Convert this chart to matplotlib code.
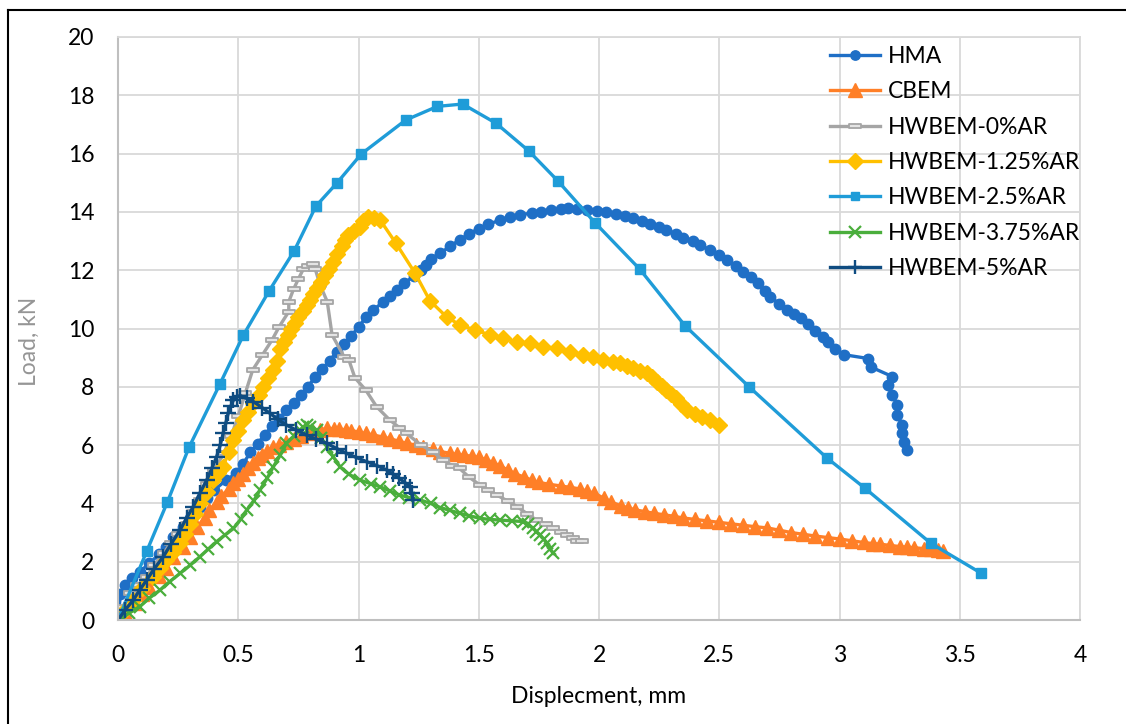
import matplotlib
matplotlib.use("Agg")
import matplotlib.pyplot as plt
from matplotlib.path import Path
from matplotlib.lines import Line2D

plt.rcParams['font.family'] = ['Lato', 'DejaVu Sans']

# ---- data ----
hma_x = [0.00, 0.01, 0.03, 0.06, 0.09, 0.13, 0.17, 0.20, 0.23, 0.27, 0.30, 0.34, 0.37, 0.40, 0.45,
         0.49, 0.52, 0.55, 0.58, 0.61, 0.64, 0.67, 0.70, 0.73, 0.76, 0.79, 0.82, 0.85, 0.88, 0.91,
         0.94, 0.97, 1.00, 1.03, 1.06, 1.10, 1.13, 1.16, 1.19, 1.23, 1.26, 1.28, 1.30, 1.34, 1.38,
         1.42, 1.46, 1.50, 1.54, 1.59, 1.63, 1.67, 1.72, 1.76, 1.80, 1.84, 1.87, 1.91, 1.95, 1.99,
         2.03, 2.07, 2.11, 2.14, 2.18, 2.21, 2.25, 2.28, 2.32, 2.35, 2.39, 2.42, 2.46, 2.50, 2.53,
         2.57, 2.60, 2.63, 2.66, 2.69, 2.71, 2.75, 2.78, 2.81, 2.84, 2.87, 2.90, 2.93, 2.95, 2.98,
         3.02, 3.12, 3.13, 3.22, 3.20, 3.22, 3.24, 3.24, 3.26, 3.26, 3.27, 3.28]
hma_y = [0.00, 0.90, 1.20, 1.45, 1.65, 1.94, 2.25, 2.50, 2.85, 3.20, 3.50, 3.89, 4.20, 4.46, 4.80,
         5.03, 5.35, 5.75, 6.05, 6.35, 6.65, 6.90, 7.20, 7.45, 7.72, 8.00, 8.35, 8.62, 8.90, 9.20,
         9.48, 9.75, 10.05, 10.38, 10.62, 10.90, 11.10, 11.32, 11.55, 11.80, 12.00, 12.18, 12.40, 12.58, 12.82,
         13.04, 13.25, 13.43, 13.58, 13.72, 13.82, 13.90, 13.96, 14.00, 14.05, 14.10, 14.12, 14.10, 14.08, 14.02,
         13.98, 13.92, 13.85, 13.78, 13.68, 13.60, 13.48, 13.38, 13.25, 13.12, 13.00, 12.86, 12.70, 12.52, 12.35,
         12.15, 11.95, 11.78, 11.55, 11.30, 11.09, 10.85, 10.65, 10.50, 10.35, 10.15, 9.92, 9.70, 9.55, 9.30,
         9.10, 8.97, 8.68, 8.35, 8.05, 7.72, 7.38, 7.03, 6.69, 6.40, 6.12, 5.83]

cbem_x = [0.00, 0.03, 0.07, 0.10, 0.13, 0.17, 0.20, 0.23, 0.27, 0.30, 0.33, 0.36, 0.38, 0.41, 0.43,
          0.46, 0.48, 0.50, 0.52, 0.54, 0.56, 0.58, 0.60, 0.62, 0.645, 0.67, 0.70, 0.73, 0.76, 0.79,
          0.81, 0.84, 0.87, 0.90, 0.92, 0.95, 0.97, 1.00, 1.03, 1.06, 1.10, 1.13, 1.17, 1.20, 1.24,
          1.27, 1.31, 1.34, 1.38, 1.41, 1.44, 1.47, 1.50, 1.53, 1.56, 1.59, 1.62, 1.65, 1.69, 1.72,
          1.75, 1.79, 1.84, 1.88, 1.92, 1.95, 1.98, 2.02, 2.05, 2.09, 2.12, 2.15, 2.19, 2.23, 2.27,
          2.31, 2.35, 2.40, 2.45, 2.50, 2.55, 2.60, 2.65, 2.70, 2.75, 2.80, 2.85, 2.90, 2.95, 3.00,
          3.05, 3.10, 3.14, 3.17, 3.21, 3.25, 3.28, 3.31, 3.35, 3.38, 3.41, 3.43]
cbem_y = [0.00, 0.25, 0.60, 0.88, 1.14, 1.50, 1.80, 2.15, 2.50, 2.85, 3.20, 3.50, 3.77, 4.05, 4.25,
          4.50, 4.70, 4.85, 5.00, 5.20, 5.38, 5.55, 5.65, 5.80, 5.95, 6.02, 6.10, 6.20, 6.30, 6.40,
          6.45, 6.52, 6.58, 6.56, 6.55, 6.52, 6.50, 6.45, 6.40, 6.35, 6.28, 6.22, 6.13, 6.06, 6.00,
          5.92, 5.85, 5.78, 5.72, 5.68, 5.65, 5.62, 5.58, 5.50, 5.40, 5.28, 5.15, 5.02, 4.90, 4.80,
          4.72, 4.66, 4.60, 4.55, 4.50, 4.42, 4.35, 4.18, 4.05, 3.92, 3.85, 3.78, 3.72, 3.66, 3.61,
          3.56, 3.50, 3.45, 3.40, 3.35, 3.30, 3.25, 3.20, 3.16, 3.08, 3.00, 2.94, 2.88, 2.83, 2.78,
          2.72, 2.66, 2.62, 2.60, 2.56, 2.52, 2.50, 2.48, 2.45, 2.42, 2.39, 2.36]

ar0_x = [0.00, 0.02, 0.05, 0.08, 0.12, 0.15, 0.19, 0.22, 0.25, 0.285, 0.31, 0.34, 0.37, 0.40, 0.44,
         0.47, 0.50, 0.53, 0.56, 0.60, 0.64, 0.67, 0.71, 0.71, 0.73, 0.75, 0.77, 0.79, 0.81, 0.82,
         0.84, 0.87, 0.89, 0.94, 0.96, 0.985, 1.03, 1.075, 1.13, 1.17, 1.20, 1.26, 1.31, 1.35, 1.39,
         1.42, 1.46, 1.505, 1.54, 1.575, 1.62, 1.66, 1.70, 1.74, 1.78, 1.81, 1.84, 1.865, 1.89, 1.91, 1.93]
ar0_y = [0.00, 0.46, 0.92, 1.20, 1.49, 1.90, 2.29, 2.65, 2.95, 3.31, 3.70, 4.12, 4.65, 5.15, 5.72,
         6.30, 7.00, 7.80, 8.58, 9.09, 9.60, 10.06, 10.58, 10.92, 11.35, 11.70, 12.03, 12.15, 12.21, 12.04,
         11.50, 10.92, 9.78, 9.03, 8.92, 8.31, 7.89, 7.32, 6.86, 6.60, 6.40, 6.00, 5.77, 5.49, 5.30,
         5.20, 4.90, 4.63, 4.45, 4.29, 4.08, 3.89, 3.65, 3.43, 3.28, 3.14, 3.02, 2.92, 2.80, 2.72, 2.70]

ar125_x = [0.00, 0.03, 0.064, 0.10, 0.147, 0.175, 0.20, 0.23, 0.258, 0.28, 0.30, 0.32, 0.341, 0.37, 0.396,
           0.417, 0.437, 0.46, 0.48, 0.50, 0.52, 0.54, 0.563, 0.585, 0.604, 0.625, 0.646, 0.66, 0.674, 0.69,
           0.708, 0.72, 0.736, 0.75, 0.77, 0.785, 0.798, 0.81, 0.826, 0.845, 0.861, 0.878, 0.895, 0.91, 0.93,
           0.945, 0.958, 0.98, 1.006, 1.02, 1.04, 1.065, 1.09, 1.156, 1.235, 1.297, 1.366, 1.422, 1.484, 1.547,
           1.602, 1.658, 1.713, 1.768, 1.824, 1.88, 1.935, 1.976, 2.018, 2.06, 2.087, 2.115, 2.14, 2.17, 2.20,
           2.22, 2.24, 2.26, 2.28, 2.30, 2.32, 2.34, 2.365, 2.40, 2.43, 2.46, 2.50]
ar125_y = [0.00, 0.35, 0.69, 1.10, 1.49, 1.78, 2.06, 2.35, 2.63, 2.95, 3.31, 3.65, 4.00, 4.40, 4.80,
           5.05, 5.26, 5.75, 6.17, 6.50, 6.86, 7.15, 7.43, 7.72, 8.00, 8.30, 8.58, 8.90, 9.30, 9.55,
           9.78, 10.00, 10.18, 10.40, 10.60, 10.80, 10.98, 11.18, 11.38, 11.60, 11.83, 12.05, 12.29, 12.55, 12.84,
           13.05, 13.20, 13.35, 13.49, 13.68, 13.84, 13.78, 13.72, 12.92, 11.90, 10.95, 10.40, 10.12, 9.95, 9.78,
           9.66, 9.55, 9.49, 9.38, 9.32, 9.20, 9.09, 9.03, 8.92, 8.85, 8.80, 8.72, 8.63, 8.55, 8.46,
           8.35, 8.18, 8.03, 7.89, 7.75, 7.60, 7.40, 7.20, 7.08, 6.97, 6.85, 6.69]

ar25_x = [0.00, 0.12, 0.205, 0.295, 0.424, 0.521, 0.629, 0.733, 0.823, 0.909, 1.012, 1.196, 1.328,
          1.433, 1.572, 1.708, 1.828, 1.983, 2.17, 2.357, 2.624, 2.946, 3.106, 3.38, 3.59]
ar25_y = [0.00, 2.37, 4.04, 5.92, 8.10, 9.77, 11.30, 12.67, 14.20, 14.98, 15.99, 17.15, 17.62,
          17.70, 17.04, 16.09, 15.07, 13.63, 12.03, 10.10, 8.00, 5.57, 4.52, 2.63, 1.60]

ar375_x = [0.00, 0.045, 0.09, 0.13, 0.175, 0.215, 0.258, 0.30, 0.34, 0.375, 0.41, 0.445, 0.48, 0.51, 0.535,
           0.565, 0.59, 0.62, 0.646, 0.675, 0.70, 0.73, 0.757, 0.77, 0.784, 0.80, 0.826, 0.845, 0.868, 0.895,
           0.923, 0.96, 1.006, 1.05, 1.09, 1.13, 1.17, 1.21, 1.256, 1.30, 1.339, 1.38, 1.422, 1.46, 1.505,
           1.545, 1.588, 1.64, 1.685, 1.705, 1.727, 1.74, 1.755, 1.77, 1.782, 1.795, 1.81]
ar375_y = [0.00, 0.23, 0.46, 0.75, 1.03, 1.32, 1.60, 1.88, 2.17, 2.43, 2.69, 2.92, 3.14, 3.45, 3.77,
           4.10, 4.46, 4.86, 5.26, 5.66, 6.06, 6.30, 6.52, 6.62, 6.69, 6.62, 6.52, 6.25, 5.95, 5.60,
           5.26, 5.00, 4.80, 4.68, 4.57, 4.43, 4.29, 4.20, 4.12, 4.00, 3.86, 3.76, 3.66, 3.58, 3.49,
           3.45, 3.43, 3.40, 3.38, 3.28, 3.14, 3.03, 2.92, 2.78, 2.63, 2.45, 2.29]

ar5_x = [0.00, 0.03, 0.064, 0.09, 0.119, 0.15, 0.188, 0.22, 0.258, 0.285, 0.313, 0.34, 0.369, 0.39, 0.41,
         0.425, 0.437, 0.448, 0.458, 0.47, 0.48, 0.495, 0.507, 0.535, 0.563, 0.60, 0.632, 0.665, 0.70, 0.74,
         0.784, 0.825, 0.868, 0.91, 0.95, 0.99, 1.034, 1.075, 1.117, 1.145, 1.17, 1.195, 1.214, 1.222, 1.228]
ar5_y = [0.00, 0.35, 0.69, 1.03, 1.37, 1.75, 2.17, 2.60, 3.09, 3.50, 3.89, 4.35, 4.80, 5.20, 5.60,
         6.00, 6.40, 6.75, 7.09, 7.35, 7.55, 7.65, 7.70, 7.60, 7.49, 7.28, 7.09, 6.88, 6.69, 6.52,
         6.35, 6.20, 6.06, 5.88, 5.72, 5.58, 5.43, 5.30, 5.15, 5.00, 4.86, 4.70, 4.57, 4.35, 4.12]

labels = ["HMA", "CBEM", "HWBEM-0%AR", "HWBEM-1.25%AR", "HWBEM-2.5%AR", "HWBEM-3.75%AR", "HWBEM-5%AR"]
x_ticks = [0, 0.5, 1, 1.5, 2, 2.5, 3, 3.5, 4]
y_ticks = [0, 2, 4, 6, 8, 10, 12, 14, 16, 18, 20]

# hollow flat bar used by the 0%AR series
bar_marker = Path([(-1, -0.28), (1, -0.28), (1, 0.28), (-1, 0.28), (-1, -0.28)],
                  [Path.MOVETO, Path.LINETO, Path.LINETO, Path.LINETO, Path.CLOSEPOLY])

fs = 16.5
fig = plt.figure(figsize=(11.26, 7.24), dpi=100)
ax = fig.add_axes([0.1048, 0.1436, 0.8544, 0.8053])

lw = 2.4
ax.plot(hma_x, hma_y, color="#1F6FC6", lw=lw, marker="o", ms=7.5, mec="#1F6FC6", label=labels[0])
ax.plot(cbem_x, cbem_y, color="#FF7F27", lw=lw, marker="^", ms=10.5, mec="#FF7F27", label=labels[1])
ax.plot(ar0_x, ar0_y, color="#A5A5A5", lw=lw, marker=bar_marker, ms=9, mfc="#E4E4E4", mec="#A5A5A5",
        mew=1.3, label=labels[2])
ax.plot(ar125_x, ar125_y, color="#FFC000", lw=lw, marker="D", ms=8.5, mec="#FFC000", label=labels[3])
ax.plot(ar25_x, ar25_y, color="#1F9CD8", lw=lw, marker="s", ms=7, mec="#1F9CD8", label=labels[4])
ax.plot(ar375_x, ar375_y, color="#4AAE3C", lw=lw, marker="x", ms=9, mew=1.6, label=labels[5])
ax.plot(ar5_x, ar5_y, color="#0F4C81", lw=lw, marker="+", ms=11, mew=1.7, label=labels[6])

ax.set_xlim(0, 4)
ax.set_ylim(0, 20)
ax.set_xticks(x_ticks)
ax.set_xticklabels([f"{t:g}" for t in x_ticks])
ax.set_yticks(y_ticks)
ax.grid(True, color="#D9D9D9", lw=1.3)
ax.set_axisbelow(True)
for s in ["top", "right"]:
    ax.spines[s].set_color("#D9D9D9")
    ax.spines[s].set_linewidth(1.3)
for s in ["left", "bottom"]:
    ax.spines[s].set_color("#BFBFBF")
    ax.spines[s].set_linewidth(1.5)
ax.tick_params(length=0, labelsize=fs, colors="black")
ax.tick_params(axis="x", pad=18)
ax.tick_params(axis="y", pad=17)

ax.set_xlabel("Displecment, mm", fontsize=fs, color="black")
ax.set_ylabel("Load, kN", fontsize=fs, color="#959595")
ax.xaxis.set_label_coords(0.5, -0.114)
ax.yaxis.set_label_coords(-0.081, 0.478)

leg = ax.legend(loc="upper left", bbox_to_anchor=(0.740, 0.985), frameon=False, fontsize=fs,
                handlelength=2.2, handletextpad=0.35, labelspacing=0.63, borderaxespad=0, borderpad=0)
for h in leg.legend_handles:
    h.set_markersize(h.get_markersize() * 0.9)

# border around the chart area
fig.add_artist(Line2D([8 / 1126, 8 / 1126], [0, 1 - 10 / 724], color="black", lw=1.5))
fig.add_artist(Line2D([8 / 1126, 1], [1 - 10 / 724, 1 - 10 / 724], color="black", lw=1.5))

fig.savefig("out.png", dpi=100)
